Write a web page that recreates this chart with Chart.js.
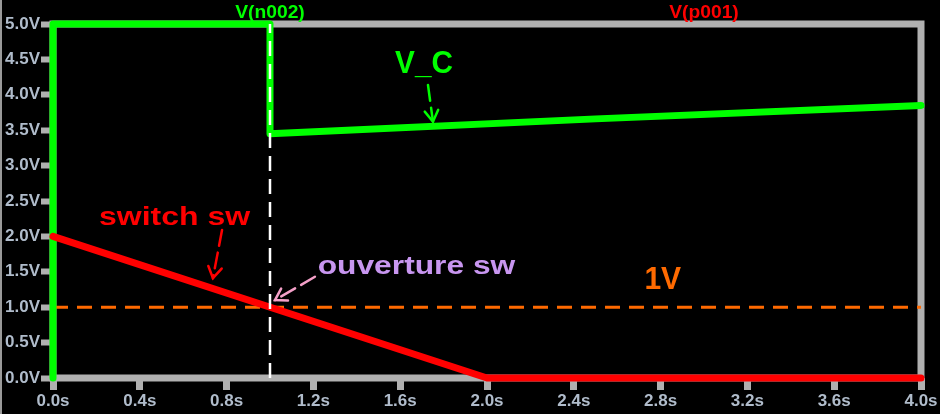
<!DOCTYPE html>
<html>
<head>
<meta charset="utf-8">
<script src="https://cdn.jsdelivr.net/npm/chart.js@4/dist/chart.umd.min.js"></script>
<style>
html, body { margin: 0; padding: 0; background: #000; }
#wrap { position: relative; width: 940px; height: 414px; }
#edge { position: absolute; left: 0; top: 0; width: 2px; height: 414px; background: #9a9a9a; }
</style>
</head>
<body>
<div id="wrap"><canvas id="c" width="940" height="414"></canvas><div id="edge"></div></div>
<script>
// axis ticks
const xTickValues = [0, 0.4, 0.8, 1.2, 1.6, 2.0, 2.4, 2.8, 3.2, 3.6, 4.0];
const xTickLabels = ['0.0s', '0.4s', '0.8s', '1.2s', '1.6s', '2.0s', '2.4s', '2.8s', '3.2s', '3.6s', '4.0s'];
const yTickValues = [0, 0.5, 1.0, 1.5, 2.0, 2.5, 3.0, 3.5, 4.0, 4.5, 5.0];
const yTickLabels = ['0.0V', '0.5V', '1.0V', '1.5V', '2.0V', '2.5V', '3.0V', '3.5V', '4.0V', '4.5V', '5.0V'];

// V(n002) - capacitor voltage
const vcTime  = [0, 0, 1, 1, 2.5, 4];
const vcVolts = [0, 5, 5, 3.45, 3.66, 3.85];

// V(p001) - switch control
const swTime  = [0, 2, 4];
const swVolts = [2, 0, 0];

// 1V threshold
const refTime  = [0, 4];
const refVolts = [1, 1];

// cursor at switch opening
const cursorTime  = [1, 1];
const cursorVolts = [0, 5];

const GREEN = '#00ff00';
const RED = '#ff0000';
const ORANGE = '#ff6a00';
const FRAME = '#b0b0b0';
const TICKTXT = '#b0bccb';

const pts = (xs, ys) => xs.map((x, i) => ({ x: x, y: ys[i] }));

// labels / arrows, placed in data units
const notes = [
    { text: 'V(n002)', x: 1.0, y: 5.085, size: 18, sx: 1.07, color: GREEN },
    { text: 'V(p001)', x: 3.0, y: 5.085, size: 18, sx: 1.07, color: RED },
    { text: 'V_C', x: 1.71, y: 4.31, size: 31, sx: 0.96, color: GREEN },
    { text: 'switch sw', x: 0.56, y: 2.16, size: 25, sx: 1.28, color: RED },
    { text: 'ouverture sw', x: 1.675, y: 1.47, size: 25, sx: 1.27, color: '#c896f0' },
    { text: '1V', x: 2.81, y: 1.26, size: 31, sx: 0.97, color: ORANGE }
];
const arrows = [
    { x1: 1.728, y1: 4.14, x2: 1.751, y2: 3.62, color: GREEN },
    { x1: 0.779, y1: 2.09, x2: 0.737, y2: 1.41, color: RED },
    { x1: 1.207, y1: 1.43, x2: 1.023, y2: 1.10, color: '#f4a0c8' }
];

const framePlugin = {
    id: 'frame',
    beforeDatasetsDraw(chart) {
        const { ctx, chartArea: a } = chart;
        ctx.save();
        ctx.strokeStyle = FRAME;
        ctx.lineWidth = 7;
        ctx.strokeRect(a.left, a.top, a.right - a.left, a.bottom - a.top);
        ctx.restore();
    }
};

const notesPlugin = {
    id: 'notes',
    afterDatasetsDraw(chart) {
        const ctx = chart.ctx;
        const xs = chart.scales.x, ys = chart.scales.y;
        notes.forEach(n => {
            ctx.save();
            ctx.translate(xs.getPixelForValue(n.x), ys.getPixelForValue(n.y));
            ctx.scale(n.sx, 1);
            ctx.font = 'bold ' + n.size + 'px "Liberation Sans", Arial, sans-serif';
            ctx.fillStyle = n.color;
            ctx.textAlign = 'center';
            ctx.textBaseline = 'alphabetic';
            ctx.fillText(n.text, 0, 0);
            ctx.restore();
        });
        arrows.forEach(ar => {
            const x1 = xs.getPixelForValue(ar.x1), y1 = ys.getPixelForValue(ar.y1);
            const x2 = xs.getPixelForValue(ar.x2), y2 = ys.getPixelForValue(ar.y2);
            ctx.save();
            ctx.strokeStyle = ar.color;
            ctx.lineWidth = 2.5;
            ctx.lineCap = 'round';
            ctx.setLineDash([16, 7]);
            ctx.beginPath();
            ctx.moveTo(x1, y1);
            ctx.lineTo(x2, y2);
            ctx.stroke();
            ctx.setLineDash([]);
            const ang = Math.atan2(y2 - y1, x2 - x1);
            ctx.beginPath();
            ctx.moveTo(x2 - 13 * Math.cos(ang - 0.55), y2 - 13 * Math.sin(ang - 0.55));
            ctx.lineTo(x2, y2);
            ctx.lineTo(x2 - 13 * Math.cos(ang + 0.55), y2 - 13 * Math.sin(ang + 0.55));
            ctx.stroke();
            ctx.restore();
        });
    }
};

const tickFont = { family: '"Liberation Sans", Arial, sans-serif', size: 17, weight: 'bold' };

new Chart(document.getElementById('c'), {
    type: 'line',
    data: {
        datasets: [
            { label: 'cursor', data: pts(cursorTime, cursorVolts), borderColor: '#ffffff', borderWidth: 2.5, borderDash: [15, 8], order: 0 },
            { label: 'V(p001)', data: pts(swTime, swVolts), borderColor: RED, borderWidth: 7, borderCapStyle: 'round', borderJoinStyle: 'round', order: 1 },
            { label: 'V(n002)', data: pts(vcTime, vcVolts), borderColor: GREEN, borderWidth: 7, borderCapStyle: 'round', borderJoinStyle: 'round', order: 2 },
            { label: '1V', data: pts(refTime, refVolts), borderColor: ORANGE, borderWidth: 3, borderDash: [15, 9], order: 3 }
        ]
    },
    options: {
        responsive: false,
        animation: false,
        devicePixelRatio: 1,
        events: [],
        datasets: { line: { pointRadius: 0, tension: 0, fill: false, clip: false } },
        layout: { padding: { left: 0, top: 24, right: 19, bottom: 0 } },
        plugins: { legend: { display: false }, tooltip: { enabled: false } },
        scales: {
            x: {
                type: 'linear',
                min: 0,
                max: 4,
                afterFit: s => { s.height = 36; },
                afterBuildTicks: s => { s.ticks = xTickValues.map(v => ({ value: v })); },
                border: { display: false },
                grid: { drawOnChartArea: false, drawTicks: true, tickLength: 12, tickWidth: 7, tickColor: FRAME },
                ticks: { color: TICKTXT, font: tickFont, padding: 1, maxRotation: 0, autoSkip: false,
                    callback: (v, i) => xTickLabels[i] }
            },
            y: {
                type: 'linear',
                min: 0,
                max: 5,
                afterFit: s => { s.width = 53; },
                afterBuildTicks: s => { s.ticks = yTickValues.map(v => ({ value: v })); },
                border: { display: false },
                grid: { drawOnChartArea: false, drawTicks: true, tickLength: 12, tickWidth: 6, tickColor: FRAME },
                ticks: { color: TICKTXT, font: tickFont, padding: 1, autoSkip: false,
                    callback: (v, i) => yTickLabels[i] }
            }
        }
    },
    plugins: [framePlugin, notesPlugin]
});
</script>
</body>
</html>
